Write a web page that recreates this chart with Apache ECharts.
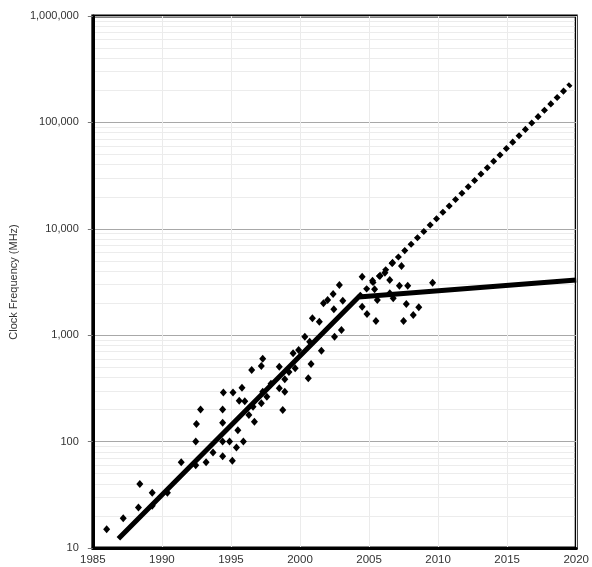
<!DOCTYPE html>
<html>
<head>
<meta charset="utf-8">
<script src="https://cdn.jsdelivr.net/npm/echarts@6/dist/echarts.min.js"></script>
<style>html,body{margin:0;padding:0;background:#fff;}#c{width:592px;height:567px;}</style>
</head>
<body>
<div id="c"></div>
<script>
// Scatter of processor clock frequencies (year, MHz)
const scatterYears = [1986.0,1987.2,1988.4,1988.3,1989.3,1989.3,1990.4,1991.4,1992.45,1992.45,1993.2,1993.7,1994.4,1995.1,
  1992.5,1992.8,1994.4,1994.4,1994.45,1995.15,1995.8,1995.6,1994.4,1994.9,1995.4,1995.9,1995.5,
  1996.5,1996.7,1996.3,1997.2,1997.3,1998.5,1999.5,2000.35,2000.6,1998.9,1998.5,1998.9,1997.3,1997.6,1998.75,1996.6,1997.2,
  2002.85,2002.4,2002.0,2001.7,2003.1,2002.45,2000.9,2001.4,2003.0,2002.5,2000.7,2001.55,1999.9,2000.8,1999.65,
  2004.5,2005.25,2005.8,2006.15,2006.7,2007.35,2006.5,2007.2,2007.8,2005.4,2006.5,2006.75,2005.6,2007.7,2008.6,2008.2,
  2004.5,2004.85,2005.5,2007.5,2009.6,1999.2,1997.9,1996.0];
const scatterMHz = [15,19,40,24,33,25,33,64,100,60,64,79,73,66,
  146,200,200,150,290,290,320,242,100,100,88,100,128,
  470,154,178,513,600,505,677,968,394,385,317,294,294,264,198,213,229,
  2966,2438,2141,1993,2110,1749,1442,1340,1120,968,868,714,726,536,489,
  3548,3250,3620,3865,4800,4470,3300,2917,2917,2700,2475,2222,2141,1963,1828,1548,
  1854,1581,1359,1359,3110,450,350,240];
// Fitted trend (solid) and extrapolated trend (dotted)
const trendYears = [1986.85, 2004.24, 2020];
const trendMHz = [12.2, 2285, 3300];
const projYears = [2004.24, 2019.6];
const projMHz = [2285, 230000];
// Axes
const xTicks = [1985, 1990, 1995, 2000, 2005, 2010, 2015, 2020];
const yTickValues = [10, 100, 1000, 10000, 100000, 1000000];
const yTickLabels = ['10', '100', '1,000', '10,000', '100,000', '1,000,000'];
const yTitle = 'Clock Frequency (MHz)';

const zip = (a, b) => a.map((v, i) => [v, b[i]]);
const minorVals = [];
for (let d = 10; d < 1000000; d *= 10) for (let k = 2; k <= 9; k++) minorVals.push(d * k);
const xMin = xTicks[0], xMax = xTicks[xTicks.length - 1];

const chart = echarts.init(document.getElementById('c'), null, {renderer: 'canvas'});
chart.setOption({
  animation: false,
  backgroundColor: '#fff',
  grid: {left: 87, right: 12, top: 16, bottom: 19, show: true, borderColor: '#000', borderWidth: 3, containLabel: false},
  xAxis: {
    type: 'value', min: xMin, max: xMax, interval: 5,
    axisLine: {show: true, lineStyle: {color: '#000', width: 3}},
    axisTick: {show: false},
    axisLabel: {color: '#333', fontFamily: 'Liberation Sans, Arial', fontSize: 11.5, margin: 6, formatter: v => String(v)},
    splitLine: {show: true, lineStyle: {color: '#ebebeb', width: 1}}
  },
  yAxis: {
    type: 'log', logBase: 10, min: yTickValues[0], max: yTickValues[yTickValues.length - 1],
    name: yTitle, nameLocation: 'middle', nameGap: 66, nameRotate: 90,
    nameTextStyle: {color: '#333', fontFamily: 'Liberation Sans, Arial', fontSize: 11},
    axisLine: {show: true, lineStyle: {color: '#000', width: 3}},
    axisTick: {show: true, length: 5, lineStyle: {color: '#777', width: 1}},
    axisLabel: {color: '#333', fontFamily: 'Liberation Sans, Arial', fontSize: 11, margin: 14,
      formatter: v => { const i = yTickValues.findIndex(t => Math.abs(t - v) / t < 1e-6); return i >= 0 ? yTickLabels[i] : ''; }},
    splitLine: {show: true, lineStyle: {color: '#a8a8a8', width: 1}}
  },
  series: [
    {
      type: 'line', data: [], silent: true, z: 0,
      markLine: {silent: true, z: 0, symbol: ['none', 'none'], label: {show: false},
        lineStyle: {color: '#ececec', width: 1, type: 'solid'},
        data: minorVals.map(v => [{xAxis: xMin + 0.1, yAxis: v}, {xAxis: xMax - 0.12, yAxis: v}])}
    },
    {
      type: 'scatter', data: zip(scatterYears, scatterMHz), symbol: 'diamond', symbolSize: [7, 8],
      itemStyle: {color: '#000', opacity: 1}, z: 3
    },
    {
      type: 'line', data: zip(trendYears, trendMHz), showSymbol: false, symbol: 'none',
      lineStyle: {color: '#000', width: 5, cap: 'butt'}, z: 4
    },
    {
      type: 'line', data: zip(projYears, projMHz), showSymbol: false, symbol: 'none',
      lineStyle: {color: '#000', width: 5, type: [5, 4], cap: 'butt'}, z: 4
    }
  ]
});
</script>
</body>
</html>
